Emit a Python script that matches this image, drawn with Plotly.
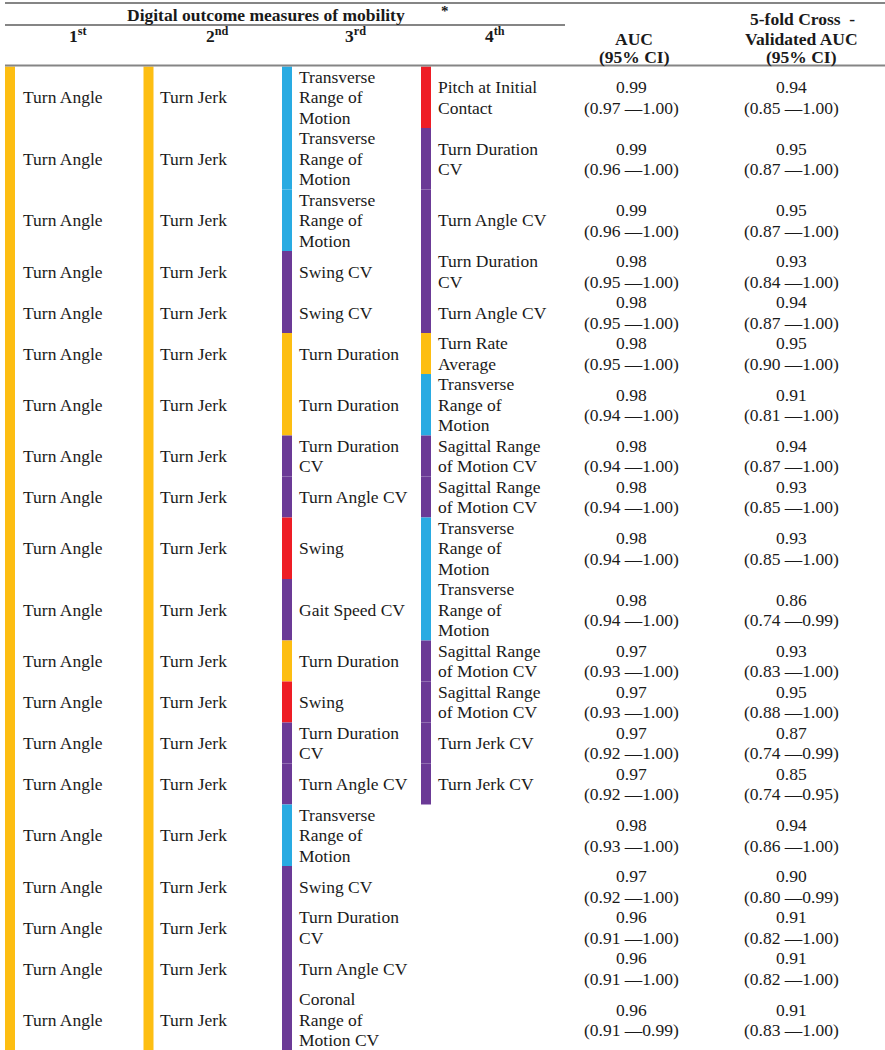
import plotly.graph_objects as go

# ---------------- data ----------------
col1_label = "Turn Angle"
col2_label = "Turn Jerk"

third_labels = [
    "Transverse\nRange of\nMotion", "Transverse\nRange of\nMotion", "Transverse\nRange of\nMotion",
    "Swing CV", "Swing CV", "Turn Duration", "Turn Duration", "Turn Duration\nCV",
    "Turn Angle CV", "Swing", "Gait Speed CV", "Turn Duration", "Swing",
    "Turn Duration\nCV", "Turn Angle CV", "Transverse\nRange of\nMotion", "Swing CV",
    "Turn Duration\nCV", "Turn Angle CV", "Coronal\nRange of\nMotion CV",
]
third_domain = [
    "trunk", "trunk", "trunk", "variability", "variability", "turning", "turning",
    "variability", "variability", "gait", "variability", "turning", "gait",
    "variability", "variability", "trunk", "variability", "variability",
    "variability", "variability",
]
fourth_labels = [
    "Pitch at Initial\nContact", "Turn Duration\nCV", "Turn Angle CV", "Turn Duration\nCV",
    "Turn Angle CV", "Turn Rate\nAverage", "Transverse\nRange of\nMotion",
    "Sagittal Range\nof Motion CV", "Sagittal Range\nof Motion CV",
    "Transverse\nRange of\nMotion", "Transverse\nRange of\nMotion",
    "Sagittal Range\nof Motion CV", "Sagittal Range\nof Motion CV",
    "Turn Jerk CV", "Turn Jerk CV", None, None, None, None, None,
]
fourth_domain = [
    "gait", "variability", "variability", "variability", "variability", "turning",
    "trunk", "variability", "variability", "trunk", "trunk", "variability",
    "variability", "variability", "variability", None, None, None, None, None,
]
auc = [0.99, 0.99, 0.99, 0.98, 0.98, 0.98, 0.98, 0.98, 0.98, 0.98,
       0.98, 0.97, 0.97, 0.97, 0.97, 0.98, 0.97, 0.96, 0.96, 0.96]
auc_lo = [0.97, 0.96, 0.96, 0.95, 0.95, 0.95, 0.94, 0.94, 0.94, 0.94,
          0.94, 0.93, 0.93, 0.92, 0.92, 0.93, 0.92, 0.91, 0.91, 0.91]
auc_hi = [1.00, 1.00, 1.00, 1.00, 1.00, 1.00, 1.00, 1.00, 1.00, 1.00,
          1.00, 1.00, 1.00, 1.00, 1.00, 1.00, 1.00, 1.00, 1.00, 0.99]
cv_auc = [0.94, 0.95, 0.95, 0.93, 0.94, 0.95, 0.91, 0.94, 0.93, 0.93,
          0.86, 0.93, 0.95, 0.87, 0.85, 0.94, 0.90, 0.91, 0.91, 0.91]
cv_lo = [0.85, 0.87, 0.87, 0.84, 0.87, 0.90, 0.81, 0.87, 0.85, 0.85,
         0.74, 0.83, 0.88, 0.74, 0.74, 0.86, 0.80, 0.82, 0.82, 0.83]
cv_hi = [1.00, 1.00, 1.00, 1.00, 1.00, 1.00, 1.00, 1.00, 1.00, 1.00,
         0.99, 1.00, 1.00, 0.99, 0.95, 1.00, 0.99, 1.00, 1.00, 1.00]

domain_colors = {"turning": "#FDBE12", "trunk": "#29ABE2",
                 "gait": "#EE1D25", "variability": "#6B3A96"}

# ---------------- layout constants ----------------
W, H = 885, 1050
LH = 20.5
TOP = 66.5
FONT = "Liberation Serif, Times New Roman, serif"
FS = 17.5
TXT = "#1a1a1a"
bar_x = [5, 143.5, 282, 421]
bar_w = 10
text_x = [20.5, 158, 297, 436]
auc_x, cv_x = 631, 791

fig = go.Figure()
fig.add_trace(go.Scatter(x=[0, W], y=[0, H], mode="markers",
                         marker=dict(opacity=0), hoverinfo="skip", showlegend=False))

shapes, annos = [], []


def add_text(x, y, text, anchor="left", size=FS):
    annos.append(dict(x=x, y=y, xref="x", yref="y", text=text, showarrow=False,
                      xanchor=anchor, yanchor="middle",
                      font=dict(family=FONT, size=size, color=TXT)))


def add_lines(x, center, lines, anchor="left"):
    n = len(lines)
    for i, ln in enumerate(lines):
        add_text(x, center + (i - (n - 1) / 2) * LH, ln, anchor)


# rows
n_rows = len(third_labels)
y = TOP
for r in range(n_rows):
    cells = [third_labels[r], fourth_labels[r]]
    nl = max([2] + [len(c.split("\n")) for c in cells if c])
    h = nl * LH
    c = y + h / 2
    add_lines(text_x[0], c, [col1_label])
    add_lines(text_x[1], c, [col2_label])
    add_lines(text_x[2], c, third_labels[r].split("\n"))
    shapes.append(dict(type="rect", xref="x", yref="y", x0=bar_x[2], x1=bar_x[2] + bar_w,
                       y0=y, y1=y + h, fillcolor=domain_colors[third_domain[r]], line_width=0))
    if fourth_labels[r]:
        add_lines(text_x[3], c, fourth_labels[r].split("\n"))
        shapes.append(dict(type="rect", xref="x", yref="y", x0=bar_x[3], x1=bar_x[3] + bar_w,
                           y0=y, y1=y + h, fillcolor=domain_colors[fourth_domain[r]], line_width=0))
    add_lines(auc_x, c, [f"{auc[r]:.2f}", f"({auc_lo[r]:.2f} \u2014{auc_hi[r]:.2f})"], "center")
    add_lines(cv_x, c, [f"{cv_auc[r]:.2f}", f"({cv_lo[r]:.2f} \u2014{cv_hi[r]:.2f})"], "center")
    y += h

# first two columns: continuous turning bars
for k in (0, 1):
    shapes.append(dict(type="rect", xref="x", yref="y", x0=bar_x[k], x1=bar_x[k] + bar_w,
                       y0=TOP, y1=y, fillcolor=domain_colors["turning"], line_width=0))

# header rules
rule = dict(color="#858585", width=2)
shapes.append(dict(type="line", xref="x", yref="y", x0=5, x1=W, y0=3, y1=3, line=rule))
shapes.append(dict(type="line", xref="x", yref="y", x0=5, x1=565, y0=25, y1=25, line=rule))
shapes.append(dict(type="line", xref="x", yref="y", x0=5, x1=W, y0=65.5, y1=65.5, line=rule))


def hdr(x, yy, t, size=FS):
    add_text(x, yy, f"<b>{t}</b>", "center", size)


hdr(266, 14.5, "Digital outcome measures of mobility")
hdr(445, 11, "*", 15)
hdr(78, 35, "1<sup>st</sup>")
hdr(217, 35, "2<sup>nd</sup>")
hdr(355, 35, "3<sup>rd</sup>")
hdr(495, 35, "4<sup>th</sup>")
hdr(auc_x + 3, 39, "AUC")
hdr(auc_x + 3, 57, "(95% CI)")
hdr(802, 19, "5-fold Cross  -")
hdr(801, 39, "Validated AUC")
hdr(801, 57, "(95% CI)")

fig.update_layout(
    width=W, height=H, margin=dict(l=0, r=0, t=0, b=0),
    paper_bgcolor="white", plot_bgcolor="white",
    xaxis=dict(range=[0, W], visible=False, fixedrange=True),
    yaxis=dict(range=[H, 0], visible=False, fixedrange=True),
    shapes=shapes, annotations=annos, showlegend=False,
)
fig.write_html("out.html", config={"displayModeBar": False},
               post_script="document.body.style.margin='0';document.body.style.overflow='hidden';")
